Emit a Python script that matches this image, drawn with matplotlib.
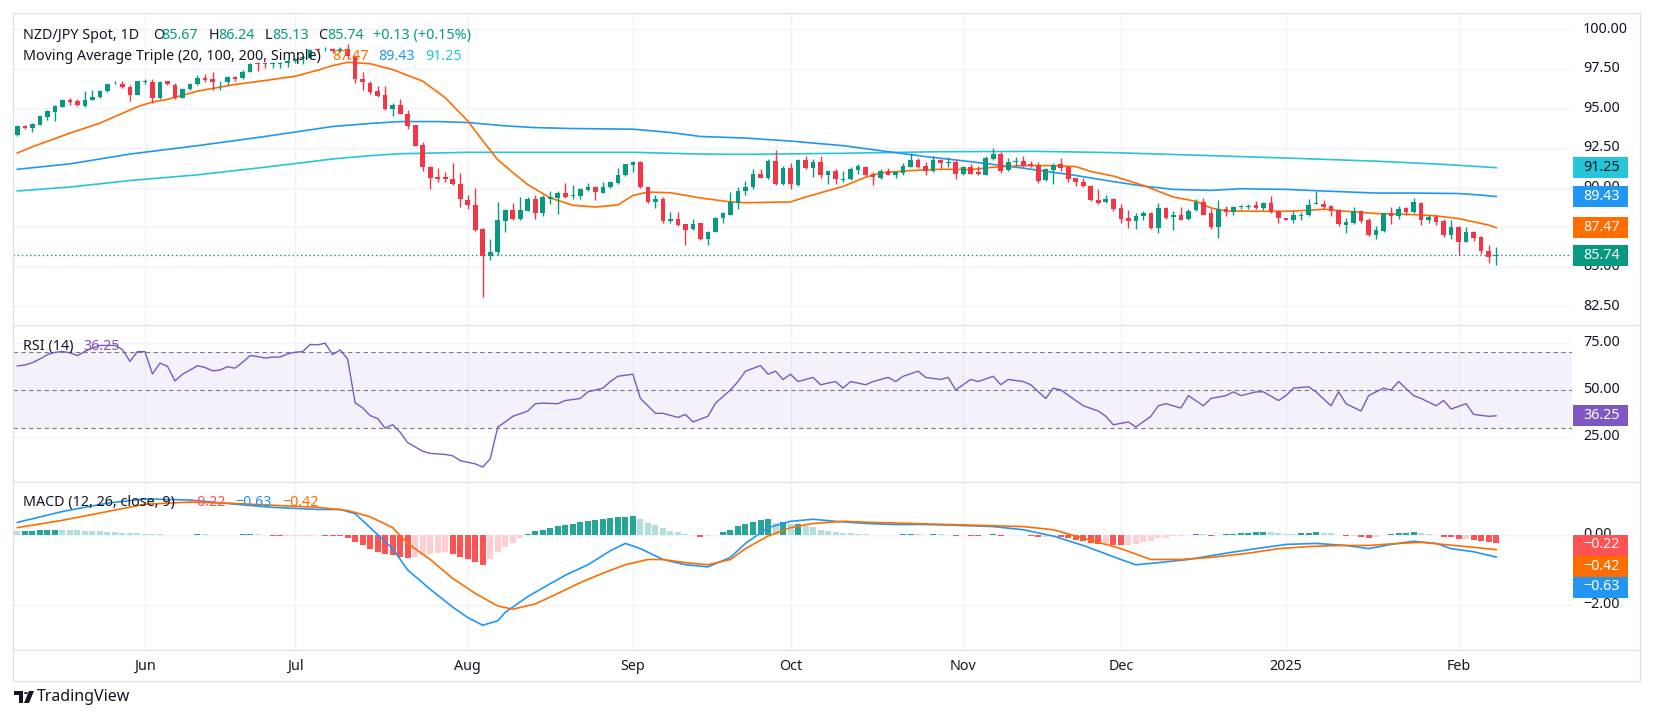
import numpy as np
import matplotlib
matplotlib.use("Agg")
import matplotlib.pyplot as plt
from matplotlib.patches import Rectangle, Polygon, Circle
from matplotlib import transforms

plt.rcParams['font.family'] = ['Noto Sans', 'DejaVu Sans']

# ---- daily candles, NZD/JPY (bar index 0 = 9 May 2024)
opens = [
    93.30, 93.87, 93.74, 93.97, 94.43, 94.79, 95.10, 95.50, 95.43, 95.14,
    95.54, 95.70, 96.08, 96.58, 96.54, 96.35, 95.83, 96.65, 96.67, 95.64,
    96.69, 96.44, 95.66, 96.19, 96.50, 96.90, 96.85, 96.69, 96.67, 96.98,
    96.90, 97.29, 97.86, 97.86, 97.81, 97.81, 97.83, 97.98, 98.17, 98.19,
    98.73, 98.73, 98.73, 98.59, 98.77, 98.32, 96.85, 96.60, 96.08, 95.81,
    94.97, 95.18, 94.66, 93.93, 92.68, 91.30, 90.67, 90.65, 90.55, 90.23,
    89.23, 88.92, 87.37, 85.66, 85.91, 87.90, 88.61, 88.00, 88.54, 89.29,
    88.38, 89.29, 89.36, 89.67, 89.46, 89.48, 89.82, 90.03, 89.67, 90.01,
    90.26, 90.76, 91.42, 91.63, 90.03, 89.09, 89.30, 87.88, 88.04, 87.67,
    87.37, 87.73, 86.75, 87.21, 88.08, 88.29, 89.04, 89.75, 90.03, 90.86,
    90.63, 91.68, 90.21, 91.22, 90.13, 91.74, 91.26, 91.59, 90.78, 91.01,
    90.49, 90.51, 91.13, 91.32, 90.84, 90.63, 91.01, 90.76, 90.92, 91.32,
    91.76, 91.38, 91.03, 91.74, 91.57, 91.59, 90.86, 91.28, 90.97, 90.82,
    91.80, 92.11, 91.13, 91.59, 91.65, 91.47, 91.42, 90.49, 91.13, 91.47,
    91.30, 90.59, 90.34, 90.09, 89.23, 89.07, 89.30, 88.73, 88.08, 87.88,
    88.21, 88.38, 87.46, 88.73, 88.15, 88.29, 88.00, 88.59, 89.09, 88.36,
    87.50, 88.67, 88.44, 88.75, 88.80, 88.92, 88.71, 89.00, 88.46, 88.08,
    87.92, 88.19, 88.29, 88.94, 88.98, 88.82, 88.61, 87.63, 87.75, 88.50,
    87.94, 87.00, 87.25, 88.36, 88.19, 88.71, 88.46, 89.04, 87.98, 88.13,
    87.88, 87.00, 87.52, 86.58, 87.21, 86.87, 85.99, 85.67,
]
highs = [
    93.93, 93.97, 94.06, 94.54, 94.89, 95.18, 95.60, 95.64, 95.56, 96.12,
    96.18, 96.18, 96.56, 96.73, 96.71, 96.48, 96.75, 96.85, 96.85, 96.75,
    96.73, 96.60, 96.25, 96.60, 97.10, 97.17, 97.29, 96.75, 97.02, 97.04,
    97.40, 97.86, 97.92, 97.92, 97.92, 97.92, 98.11, 98.15, 98.32, 98.73,
    98.82, 98.84, 98.80, 98.84, 99.07, 98.38, 97.29, 96.69, 96.39, 96.39,
    95.31, 95.56, 94.89, 93.97, 92.84, 91.34, 91.22, 90.97, 91.55, 90.92,
    89.55, 89.98, 87.42, 86.75, 89.09, 88.63, 89.04, 89.40, 89.38, 89.50,
    89.50, 89.78, 89.75, 90.30, 90.17, 89.96, 90.30, 90.09, 90.34, 90.42,
    91.22, 91.51, 91.70, 91.68, 90.05, 89.55, 89.38, 88.46, 88.46, 87.69,
    88.00, 87.79, 87.25, 88.15, 88.46, 89.71, 90.03, 90.38, 91.17, 91.17,
    91.80, 92.36, 91.38, 91.55, 91.80, 92.01, 91.80, 92.01, 91.07, 91.17,
    91.07, 91.28, 91.49, 91.38, 90.97, 91.17, 91.22, 91.07, 91.55, 92.16,
    91.84, 91.59, 91.97, 91.80, 91.90, 91.80, 91.38, 91.49, 91.38, 92.01,
    92.47, 92.26, 91.84, 91.90, 91.97, 91.70, 91.59, 91.22, 91.53, 91.84,
    91.38, 90.63, 90.59, 90.17, 89.90, 89.50, 89.34, 88.98, 88.59, 88.36,
    88.54, 88.46, 89.04, 88.75, 88.52, 88.77, 88.67, 89.30, 89.36, 88.63,
    89.23, 88.84, 88.84, 88.92, 88.94, 89.13, 89.09, 89.46, 88.56, 88.10,
    88.50, 88.46, 89.30, 89.75, 89.19, 88.88, 88.67, 88.08, 88.77, 88.56,
    88.08, 87.58, 88.42, 88.77, 88.84, 88.79, 89.36, 89.09, 88.25, 88.25,
    88.00, 87.98, 87.58, 87.52, 87.27, 86.92, 86.35, 86.24,
]
lows = [
    93.22, 93.68, 93.51, 93.93, 94.26, 94.22, 95.06, 95.18, 95.14, 95.10,
    95.50, 95.66, 96.04, 96.54, 96.29, 95.48, 95.81, 96.50, 95.35, 95.60,
    96.48, 95.56, 95.62, 96.14, 96.46, 96.64, 96.14, 96.14, 96.46, 96.75,
    96.87, 97.27, 97.33, 97.54, 97.54, 97.54, 97.60, 97.86, 97.79, 98.15,
    98.57, 98.59, 98.48, 98.52, 98.11, 96.60, 96.14, 95.89, 95.73, 94.89,
    94.51, 94.62, 93.72, 92.59, 91.07, 89.88, 90.34, 90.34, 90.13, 88.75,
    88.67, 87.27, 83.11, 85.43, 85.75, 87.21, 87.96, 87.96, 88.50, 88.04,
    88.21, 88.98, 88.31, 89.36, 89.29, 89.25, 89.75, 89.19, 89.65, 89.96,
    90.21, 90.71, 90.97, 89.96, 89.02, 88.71, 87.79, 87.79, 87.58, 86.37,
    87.29, 86.66, 86.37, 87.17, 87.73, 88.25, 88.63, 89.50, 89.88, 90.59,
    90.55, 90.15, 90.17, 89.92, 90.09, 91.17, 90.69, 90.59, 90.19, 90.19,
    90.34, 90.47, 90.84, 90.71, 90.13, 90.51, 90.76, 90.63, 90.76, 91.28,
    91.22, 90.82, 90.97, 91.26, 91.28, 90.51, 90.76, 90.84, 90.80, 90.78,
    91.72, 90.90, 91.01, 91.38, 91.32, 91.28, 90.30, 90.38, 90.19, 91.03,
    90.36, 90.07, 90.01, 89.15, 88.96, 89.02, 88.54, 87.73, 87.42, 87.37,
    87.94, 87.37, 87.14, 88.04, 87.31, 87.92, 87.96, 88.50, 88.25, 87.37,
    86.79, 88.19, 88.25, 88.63, 88.67, 88.67, 88.56, 88.40, 87.79, 87.92,
    87.79, 87.98, 88.21, 88.94, 88.67, 88.21, 87.54, 87.10, 87.71, 87.79,
    86.96, 86.75, 87.21, 87.67, 88.04, 88.29, 88.40, 87.62, 87.75, 87.62,
    86.87, 86.75, 85.75, 86.54, 86.62, 85.83, 85.26, 85.13,
]
closes = [
    93.85, 93.78, 93.99, 94.49, 94.81, 95.12, 95.50, 95.39, 95.18, 95.52,
    95.73, 96.12, 96.50, 96.62, 96.35, 95.81, 96.69, 96.69, 95.64, 96.67,
    96.50, 95.64, 96.21, 96.56, 96.92, 96.77, 96.67, 96.73, 96.98, 96.85,
    97.31, 97.81, 97.79, 97.79, 97.86, 97.86, 98.00, 98.13, 98.21, 98.69,
    98.65, 98.77, 98.63, 98.73, 98.32, 96.85, 96.64, 96.02, 95.77, 94.93,
    95.18, 94.66, 93.89, 92.64, 91.28, 90.61, 90.55, 90.55, 90.19, 89.25,
    88.88, 87.31, 85.70, 85.95, 87.92, 88.61, 88.00, 88.61, 89.29, 88.40,
    89.40, 89.38, 89.67, 89.40, 89.50, 89.88, 90.05, 89.69, 90.03, 90.34,
    90.82, 91.47, 91.63, 90.03, 89.07, 89.30, 87.88, 88.04, 87.62, 87.31,
    87.71, 86.75, 87.21, 88.08, 88.36, 89.09, 89.80, 90.03, 90.86, 90.63,
    91.68, 90.19, 91.24, 90.19, 91.76, 91.26, 91.59, 90.76, 91.01, 90.51,
    90.55, 91.15, 91.36, 90.76, 90.65, 91.05, 90.78, 90.99, 91.38, 91.76,
    91.32, 91.05, 91.74, 91.57, 91.61, 90.86, 91.28, 90.88, 90.88, 91.84,
    92.11, 91.01, 91.59, 91.65, 91.38, 91.42, 90.38, 91.17, 91.42, 91.24,
    90.55, 90.32, 90.07, 89.19, 89.04, 89.30, 88.67, 88.00, 87.88, 88.23,
    88.36, 87.46, 88.73, 88.08, 88.29, 87.98, 88.52, 89.09, 88.29, 87.48,
    88.67, 88.44, 88.79, 88.82, 88.84, 88.71, 89.02, 88.46, 88.08, 87.94,
    88.25, 88.29, 88.92, 89.02, 88.75, 88.54, 87.67, 87.81, 88.50, 87.88,
    87.00, 87.29, 88.36, 88.19, 88.67, 88.46, 89.09, 87.98, 88.15, 87.84,
    87.00, 87.52, 86.58, 87.21, 86.83, 86.00, 85.61, 85.74,
]

# ---- moving averages read at some bars
ma20_idx = [0, 2, 7, 11, 16, 18, 20, 24, 29, 33, 37, 40, 42, 44, 47, 50, 54, 57, 60, 62,
            64, 66, 68, 71, 74, 77, 80, 82, 84, 87, 91, 95, 97, 103, 105, 110, 113, 115, 119, 123,
            127, 130, 134, 138, 141, 143, 146, 150, 154, 157, 159, 161, 166, 169, 172, 174, 177, 181, 186, 189,
            192, 196, 197]
ma20_val = [92.18, 92.57, 93.43, 94.06, 95.10, 95.39, 95.56, 96.08, 96.50, 96.75,
            97.02, 97.40, 97.69, 97.90, 97.81, 97.44, 96.71, 95.66, 94.20, 92.95,
            91.75, 90.95, 90.18, 89.34, 88.88, 88.77, 88.90, 89.50, 89.71, 89.67,
            89.34, 89.09, 89.04, 89.09, 89.40, 90.07, 90.65, 90.92, 91.07, 91.15,
            91.13, 91.28, 91.38, 91.38, 91.32, 91.01, 90.72, 90.13, 89.40, 89.13,
            88.71, 88.52, 88.50, 88.50, 88.56, 88.63, 88.50, 88.36, 88.29, 88.21,
            88.04, 87.63, 87.47]
ma100_idx = [0, 7, 15, 24, 33, 42, 47, 51, 56, 60, 65, 69, 74, 82, 87, 91, 97, 103, 110, 116,
             121, 127, 134, 141, 146, 150, 154, 159, 163, 169, 174, 181, 186, 192, 195, 197]
ma100_val = [91.15, 91.49, 92.11, 92.64, 93.22, 93.85, 94.04, 94.16, 94.16, 94.10,
             93.89, 93.78, 93.72, 93.68, 93.47, 93.22, 93.12, 92.93, 92.64, 92.26,
             91.95, 91.63, 91.22, 90.76, 90.37, 90.09, 89.88, 89.82, 89.92, 89.88,
             89.78, 89.65, 89.65, 89.62, 89.52, 89.43]
ma200_idx = [0, 7, 15, 24, 33, 42, 47, 51, 60, 69, 82, 91, 97, 110, 123, 136, 146, 159, 169, 181, 190, 197]
ma200_val = [89.78, 90.03, 90.44, 90.80, 91.28, 91.80, 92.01, 92.13, 92.22, 92.22,
             92.22, 92.11, 92.09, 92.16, 92.26, 92.28, 92.20, 92.01, 91.86, 91.66, 91.46, 91.25]

# ---- RSI(14)
rsi_idx = list(range(0, 51)) + [51, 52, 54, 55, 57, 58, 59, 61, 62, 63, 64, 65, 66, 68, 69, 70, 72, 73, 75, 76,
                                78, 79, 80, 82, 83, 84, 85, 86, 88, 89, 90, 92, 93, 95, 96, 97, 99, 100, 101, 102,
                                103, 104, 106, 107, 109, 110, 111, 113, 114, 116, 117, 118, 120, 121, 123, 124, 125, 127, 128, 130,
                                131, 132, 134, 135, 137, 138, 139, 141, 142, 144, 145, 146, 148, 149, 151, 152, 153, 155, 156, 158,
                                159, 161, 162, 163, 165, 166, 168, 169, 170, 172, 173, 175, 176, 177, 179, 180, 182, 183, 184, 186,
                                187, 189, 190, 191, 193, 194, 196, 197]
rsi_val = [62.8, 63.3, 64.5, 66.5, 68.8, 70.0, 70.5, 69.8, 68.3, 70.5,
           72.3, 73.7, 73.7, 73.7, 71.5, 65.2, 70.4, 70.4, 58.5, 64.3,
           62.6, 54.8, 58.4, 60.6, 62.9, 62.0, 60.2, 60.6, 62.4, 61.6,
           64.7, 68.3, 67.8, 67.0, 67.5, 67.5, 69.2, 70.1, 70.4, 74.2,
           74.0, 74.9, 68.8, 71.3, 66.5, 43.2, 40.5, 36.4, 34.8, 29.7,
           31.5,
           27.5, 22.0, 17.4, 16.3, 15.7, 15.0, 12.4, 10.7, 9.0, 13.5, 30.3, 33.0, 36.0, 38.8, 42.7, 43.0, 42.7, 44.4, 45.5, 49.0,
           51.0, 54.5, 57.3, 58.4, 45.5, 41.6, 37.6, 37.6, 35.4, 37.0, 33.0, 36.0, 43.0, 50.0, 54.5, 60.0, 63.0, 58.4, 60.0, 55.6,
           58.4, 54.5, 56.7, 52.8, 54.5, 51.0, 54.5, 52.8, 54.5, 56.7, 54.5, 57.3, 60.0, 56.7, 55.6, 56.7, 50.0, 55.6, 54.5, 57.3,
           52.8, 55.6, 54.5, 52.8, 45.5, 51.0, 50.0, 44.4, 41.6, 38.8, 36.0, 31.5, 33.0, 30.3, 36.0, 41.6, 42.7, 40.4, 47.0, 41.6,
           45.5, 47.0, 49.0, 47.0, 49.0, 49.0, 44.4, 47.0, 51.0, 51.7, 49.0, 41.6, 49.0, 42.7, 38.8, 47.0, 51.0, 50.0, 54.5, 47.0,
           45.5, 41.6, 44.4, 39.9, 42.7, 37.0, 36.0, 36.25]

# ---- MACD(12, 26, 9)
macd_idx = [0, 6, 12, 17, 23, 29, 34, 40, 43, 45, 47, 50, 52, 55, 58, 60, 62, 64, 65, 68,
            71, 73, 76, 79, 81, 83, 86, 89, 92, 95, 97, 100, 103, 106, 109, 113, 117, 121, 126, 130,
            134, 138, 142, 147, 149, 152, 156, 161, 165, 169, 173, 177, 180, 183, 186, 189, 191, 194, 197]
macd_val = [0.36, 0.67, 0.91, 1.03, 1.00, 0.88, 0.79, 0.73, 0.73, 0.61, 0.21, -0.39, -1.00, -1.55, -2.06, -2.36, -2.58, -2.45, -2.21, -1.76,
            -1.39, -1.15, -0.85, -0.45, -0.24, -0.39, -0.70, -0.85, -0.91, -0.64, -0.24, 0.21, 0.39, 0.45, 0.39, 0.33, 0.30, 0.30, 0.27, 0.24,
            0.15, -0.03, -0.30, -0.70, -0.85, -0.79, -0.70, -0.52, -0.39, -0.27, -0.24, -0.30, -0.39, -0.27, -0.18, -0.24, -0.39, -0.48, -0.63]
sig_idx = [0, 6, 12, 17, 23, 28, 34, 40, 44, 47, 50, 52, 55, 58, 61, 64, 66, 69, 72, 75,
           78, 81, 84, 86, 89, 92, 95, 97, 100, 103, 106, 110, 114, 119, 124, 134, 138, 142, 147, 151,
           155, 159, 164, 168, 172, 176, 180, 184, 187, 190, 193, 197]
sig_val = [0.21, 0.42, 0.67, 0.88, 0.94, 0.91, 0.85, 0.79, 0.70, 0.52, 0.21, -0.24, -0.70, -1.24, -1.67, -2.03, -2.12, -1.97, -1.67, -1.36,
           -1.09, -0.85, -0.70, -0.70, -0.79, -0.85, -0.70, -0.39, -0.03, 0.21, 0.33, 0.39, 0.36, 0.33, 0.30, 0.24, 0.15, -0.09, -0.39, -0.70,
           -0.70, -0.64, -0.52, -0.39, -0.33, -0.30, -0.30, -0.24, -0.21, -0.27, -0.33, -0.42]
macd_hist = [
    0.10, 0.11, 0.12, 0.13, 0.14, 0.15, 0.15, 0.14, 0.13, 0.12,
    0.11, 0.10, 0.09, 0.08, 0.07, 0.05, 0.05, 0.04, 0.02, 0.02,
    0.01, -0.01, 0.00, 0.01, 0.02, 0.02, 0.01, 0.00, 0.01, 0.01,
    0.02, 0.03, 0.02, 0.00, -0.02, -0.03, -0.03, -0.02, -0.02, -0.02,
    -0.01, -0.02, -0.03, -0.04, -0.08, -0.20, -0.30, -0.40, -0.48, -0.55,
    -0.58, -0.62, -0.66, -0.62, -0.58, -0.55, -0.52, -0.50, -0.55, -0.62,
    -0.70, -0.78, -0.85, -0.70, -0.50, -0.35, -0.22, -0.10, 0.02, 0.10,
    0.15, 0.20, 0.25, 0.28, 0.32, 0.36, 0.40, 0.42, 0.45, 0.48,
    0.50, 0.52, 0.55, 0.45, 0.35, 0.28, 0.20, 0.12, 0.08, 0.03,
    0.00, -0.05, -0.04, 0.00, 0.08, 0.15, 0.25, 0.32, 0.38, 0.42,
    0.45, 0.35, 0.38, 0.30, 0.32, 0.25, 0.22, 0.15, 0.12, 0.08,
    0.05, 0.05, 0.04, 0.02, 0.00, 0.00, -0.01, 0.00, 0.02, 0.03,
    0.02, 0.01, 0.02, 0.02, 0.01, -0.02, -0.01, -0.02, -0.03, 0.00,
    0.02, -0.02, -0.01, 0.00, -0.01, -0.02, -0.06, -0.06, -0.05, -0.06,
    -0.10, -0.14, -0.18, -0.22, -0.25, -0.25, -0.28, -0.30, -0.28, -0.25,
    -0.20, -0.18, -0.10, -0.08, -0.04, -0.02, 0.00, 0.03, 0.02, -0.02,
    0.00, 0.02, 0.04, 0.06, 0.07, 0.08, 0.09, 0.08, 0.06, 0.04,
    0.04, 0.05, 0.07, 0.08, 0.07, 0.05, 0.00, -0.03, -0.02, -0.05,
    -0.08, -0.06, 0.00, 0.02, 0.05, 0.06, 0.09, 0.05, 0.03, 0.00,
    -0.05, -0.06, -0.12, -0.12, -0.14, -0.17, -0.20, -0.22,
]

month_labels = ['Jun', 'Jul', 'Aug', 'Sep', 'Oct', 'Nov', 'Dec', '2025', 'Feb']
month_bars = [17, 37, 60, 82, 103, 126, 147, 169, 192]
price_ticks = [100.0, 97.5, 95.0, 92.5, 90.0, 87.5, 85.0, 82.5]
rsi_ticks = [75, 50, 25]
macd_ticks = [0.0, -2.0]

# ---- colours
UP, DOWN = '#089981', '#f23645'
C_MA20, C_MA100, C_MA200 = '#ff6d00', '#2196f3', '#26c6da'
C_RSI = '#7e57c2'
TXT = '#131722'
GRID = '#f0f3fa'
BORDER = '#e0e3eb'
FS = 10.3

W, H = 1653, 718
fig = plt.figure(figsize=(W / 100, H / 100), dpi=100)
fig.patch.set_facecolor('white')

PX0, PX1 = 13, 1572          # plot area, pixels
XLIM = (-0.577, 207.1)


def pane(top, bottom, ylim):
    ax = fig.add_axes([PX0 / W, 1 - bottom / H, (PX1 - PX0) / W, (bottom - top) / H])
    ax.set_xlim(*XLIM)
    ax.set_ylim(*ylim)
    ax.set_axis_off()
    for b in month_bars:
        ax.axvline(b, color=GRID, lw=1, zorder=0)
    return ax


def ftext(px, py, s, **kw):
    kw.setdefault('fontsize', FS)
    kw.setdefault('color', TXT)
    kw.setdefault('va', 'center')
    return fig.text(px / W, 1 - py / H, s, **kw)


def tag(ax, value, label, fc, tc='white', py=None):
    if py is None:
        py = H - ax.transData.transform((0, value))[1]
    fig.add_artist(Rectangle((1573 / W, 1 - (py + 10.5) / H), 55 / W, 21 / H,
                             transform=fig.transFigure, fc=fc, ec='none', zorder=5))
    ftext(1583, py, label, color=tc, zorder=6)


def axis_labels(ax, ticks, fmt):
    for t in ticks:
        py = H - ax.transData.transform((0, t))[1]
        ftext(1583, py, fmt(t), zorder=2)
        ax.axhline(t, color=GRID, lw=1, zorder=0)


ax_p = pane(13, 325, (81.325, 101.01))
ax_r = pane(325, 482, (1.06, 84.57))
ax_m = pane(482, 650, (-3.286, 1.514))

# ---- price pane
idx = np.arange(len(closes))
o, h, l, c = map(np.array, (opens, highs, lows, closes))
col = np.where(c >= o, UP, DOWN)
ax_p.vlines(idx, l, h, colors=col, lw=1, zorder=3)
ax_p.bar(idx, np.maximum(np.abs(c - o), 0.03), bottom=np.minimum(o, c), width=0.62,
         color=col, linewidth=0, zorder=4)
ax_p.plot(ma200_idx, ma200_val, color=C_MA200, lw=1.2, zorder=2)
ax_p.plot(ma100_idx, ma100_val, color=C_MA100, lw=1.2, zorder=2)
ax_p.plot(ma20_idx, ma20_val, color=C_MA20, lw=1.2, zorder=2)
ax_p.axhline(closes[-1], color=UP, lw=1, ls=(0, (1, 2)), zorder=1)
axis_labels(ax_p, price_ticks, lambda v: f'{v:.2f}')

# ---- RSI pane
ax_r.axhspan(30, 70, color=C_RSI, alpha=0.08, lw=0, zorder=0)
for lv in (70, 50, 30):
    ax_r.axhline(lv, color='#787b86', lw=0.8, ls=(0, (4, 3)), zorder=1)
ax_r.plot(rsi_idx, rsi_val, color=C_RSI, lw=1, zorder=3)
axis_labels(ax_r, rsi_ticks, lambda v: f'{v:.2f}')

# ---- MACD pane
hist = np.array(macd_hist)
prev = np.concatenate([[hist[0]], hist[:-1]])
hcol = np.where(hist >= 0, np.where(hist > prev, '#26a69a', '#b2dfdb'),
                np.where(hist < prev, '#ff5252', '#ffcdd2'))
ax_m.bar(idx, hist, width=0.8, color=hcol, linewidth=0, zorder=2)
ax_m.plot(macd_idx, macd_val, color=C_MA100, lw=1.2, zorder=3)
ax_m.plot(sig_idx, sig_val, color=C_MA20, lw=1.2, zorder=3)
axis_labels(ax_m, macd_ticks, lambda v: f'{v:.2f}'.replace('-', '\u2212'))

# ---- value tags on the scale
tag(ax_p, ma200_val[-1], f'{ma200_val[-1]:.2f}', C_MA200, tc=TXT)
tag(ax_p, ma100_val[-1], f'{ma100_val[-1]:.2f}', C_MA100)
tag(ax_p, ma20_val[-1], f'{ma20_val[-1]:.2f}', C_MA20)
tag(ax_p, closes[-1], f'{closes[-1]:.2f}', UP)
tag(ax_r, rsi_val[-1], f'{rsi_val[-1]:.2f}', C_RSI)
tag(ax_m, 0, '\u22120.22', '#ff5252', py=545)
tag(ax_m, 0, '\u22120.42', C_MA20, py=566)
tag(ax_m, 0, '\u22120.63', C_MA100, py=587)

# ---- legends (header lines)
ftext(23, 35.5, 'NZD/JPY Spot, 1D')
for px, s, cc in [(153, 'O', TXT), (161, '85.67', UP), (209, 'H', TXT), (218, '86.24', UP),
                  (265, 'L', TXT), (272, '85.13', UP), (318, 'C', TXT), (327, '85.74', UP),
                  (373, '+0.13 (+0.15%)', UP)]:
    ftext(px, 35.5, s, color=cc)
ftext(23, 57, 'Moving Average Triple (20, 100, 200, Simple)')
ftext(332, 57, f'{ma20_val[-1]:.2f}', color=C_MA20)
ftext(378, 57, f'{ma100_val[-1]:.2f}', color=C_MA100)
ftext(425, 57, f'{ma200_val[-1]:.2f}', color=C_MA200)
ftext(23, 346, 'RSI (14)')
ftext(83, 346, f'{rsi_val[-1]:.2f}', color=C_RSI)
ftext(23, 502.5, 'MACD (12, 26, close, 9)')
ftext(189, 502.5, '\u22120.22', color='#ff5252')
ftext(235, 502.5, '\u22120.63', color=C_MA100)
ftext(282, 502.5, '\u22120.42', color=C_MA20)

# ---- time axis
tx = transforms.blended_transform_factory(ax_m.transData, fig.transFigure)
for b, lab in zip(month_bars, month_labels):
    ax_m.text(b, 1 - 666 / H, lab, transform=tx, ha='center', va='center', fontsize=FS,
              color=TXT, fontweight='bold' if lab == '2025' else 'normal', clip_on=False)

# ---- frame
for y in (325, 482, 650):
    fig.add_artist(plt.Line2D([13 / W, 1640 / W], [1 - y / H] * 2, transform=fig.transFigure,
                              color=BORDER, lw=1))
fig.add_artist(Rectangle((13 / W, 1 - 681 / H), (1640 - 13) / W, (681 - 13) / H,
                         transform=fig.transFigure, fill=False, ec=BORDER, lw=1))

# ---- footer logo
def P(x, y):
    return (x / W, 1 - y / H)

fig.add_artist(Polygon([P(14, 691), P(23, 691), P(23, 703), P(18.5, 703), P(18.5, 695), P(14, 695)],
                       closed=True, transform=fig.transFigure, fc=TXT, ec='none'))
fig.add_artist(Circle(P(26, 693), 2.1 / W, transform=fig.transFigure, fc=TXT, ec='none'))
fig.add_artist(Polygon([P(29, 691), P(34, 691), P(29, 703), P(24, 703)],
                       closed=True, transform=fig.transFigure, fc=TXT, ec='none'))
ftext(37, 697, 'TradingView', fontsize=11.5)

fig.savefig('out.png', dpi=100, facecolor='white')
